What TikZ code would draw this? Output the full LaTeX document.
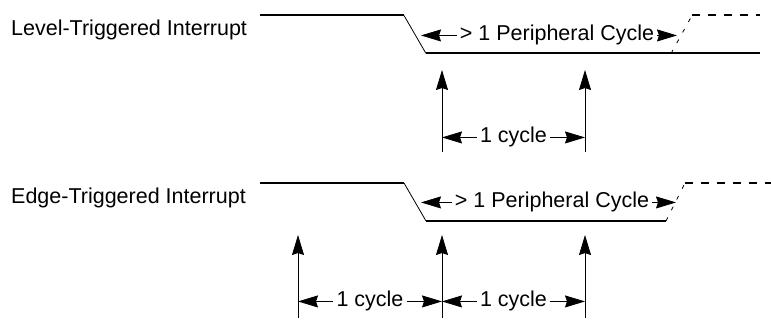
\documentclass[tikz,border=0pt]{standalone}
\usepackage{fontspec}
\setmainfont{Liberation Sans}
\usetikzlibrary{arrows.meta}

\tikzset{
  signal/.style={line width=2pt},
  slope/.style={line width=0.8pt},
  future/.style={line width=2pt,dash pattern=on 8pt off 8pt},
  futslope/.style={line width=0.8pt,dash pattern=on 4pt off 8pt},
  arr/.style={line width=0.8pt,-{Stealth[length=20pt,width=12pt,inset=2pt]}},
  lbl/.style={font=\fontsize{21.5}{25}\selectfont,inner xsep=3pt,inner ysep=0pt,anchor=base}
}

\begin{document}
\begin{tikzpicture}[x=1pt,y=-1pt]

\useasboundingbox (0,0) rectangle (771,320);

% Signal names
\node[lbl,anchor=base west,inner xsep=0pt] (lvl) at (11,36) {Level-Triggered Interrupt};
\node[lbl,anchor=base west,inner xsep=0pt] (edg) at (11,204) {Edge-Triggered Interrupt};

% Level-triggered waveform
\coordinate (H1) at (260,15.5);
\coordinate (F1) at (404,15.5);
\coordinate (L1) at (426,53.5);
\coordinate (R1) at (671,53.5);
\coordinate (E1) at (760,53.5);
\coordinate (D1) at (692,15.5);
\coordinate (X1) at (760,15.5);

\draw[signal] (H1) -- (F1);
\draw[slope] (F1) -- (L1);
\draw[signal] (L1) -- (E1);
\draw[futslope] (R1) -- (D1);
\draw[future] (D1) -- (X1);

% Edge-triggered waveform
\coordinate (H2) at (260,183);
\coordinate (F2) at (404,183);
\coordinate (L2) at (426,221);
\coordinate (R2) at (666,221);
\coordinate (D2) at (685,183);
\coordinate (X2) at (771,183);

\draw[signal] (H2) -- (F2);
\draw[slope] (F2) -- (L2);
\draw[signal] (L2) -- (R2);
\draw[futslope] (R2) -- (D2);
\draw[future] (D2) -- (X2);

% Peripheral cycle spans
\node[lbl] (per1) at (557,41) {> 1 Peripheral Cycle};
\coordinate (pl1) at (421,34);
\coordinate (pr1) at (677,34);
\draw[arr] (per1.west) -- (per1.west -| pl1);
\draw[arr] (per1.east) -- (per1.east -| pr1);

\node[lbl] (per2) at (552,208) {> 1 Peripheral Cycle};
\coordinate (pl2) at (421,201);
\coordinate (pr2) at (676,201);
\draw[arr] (per2.west) -- (per2.west -| pl2);
\draw[arr] (per2.east) -- (per2.east -| pr2);

% Sampling edges, level-triggered
\coordinate (a1) at (442,152);
\coordinate (a1t) at (442,70);
\coordinate (b1) at (585,152);
\coordinate (b1t) at (585,70);
\draw[arr] (a1) -- (a1t);
\draw[arr] (b1) -- (b1t);

\node[lbl] (cyc1) at (513.5,143) {1 cycle};
\draw[arr] (cyc1.west) -- (cyc1.west -| a1);
\draw[arr] (cyc1.east) -- (cyc1.east -| b1);

% Sampling edges, edge-triggered
\coordinate (a2) at (298,318);
\coordinate (a2t) at (298,235);
\coordinate (b2) at (442,318);
\coordinate (b2t) at (442,235);
\coordinate (c2) at (585,318);
\coordinate (c2t) at (585,235);
\draw[arr] (a2) -- (a2t);
\draw[arr] (b2) -- (b2t);
\draw[arr] (c2) -- (c2t);

\node[lbl] (cyc2) at (370,307) {1 cycle};
\node[lbl] (cyc3) at (513.5,307) {1 cycle};
\draw[arr] (cyc2.west) -- (cyc2.west -| a2);
\draw[arr] (cyc2.east) -- (cyc2.east -| b2);
\draw[arr] (cyc3.west) -- (cyc3.west -| b2);
\draw[arr] (cyc3.east) -- (cyc3.east -| c2);

\end{tikzpicture}
\end{document}
